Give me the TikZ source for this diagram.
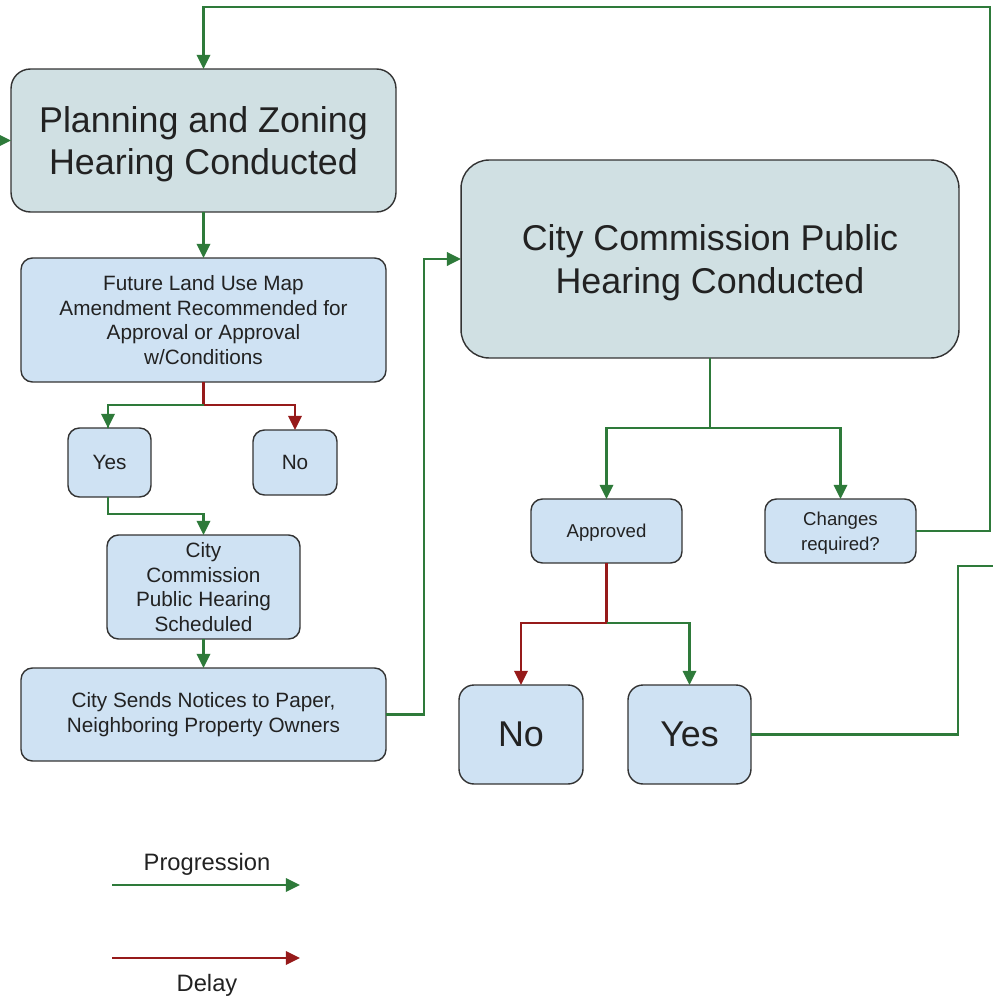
\documentclass[tikz,border=0pt]{standalone}
\usepackage{fontspec}
\setmainfont{Liberation Sans}
\usetikzlibrary{arrows.meta}
\definecolor{pgreen}{RGB}{46,122,58}
\definecolor{dred}{RGB}{150,26,26}
\definecolor{boxblue}{HTML}{CFE2F3}
\definecolor{boxcyan}{HTML}{D0E0E3}
\definecolor{edgegray}{HTML}{333333}
\definecolor{txt}{HTML}{222222}
\begin{document}
\begin{tikzpicture}[x=0.02cm,y=-0.02cm,
  box/.style={draw=edgegray, line width=0.8pt, fill=boxblue, rounded corners=6.5pt,
    inner sep=0pt, outer sep=0pt, align=center, text=txt,
    font=\fontsize{11.8}{13.9}\selectfont},
  smallbox/.style={box, text depth=0pt, font=\fontsize{10.6}{14.2}\selectfont},
  bigbox/.style={box, rounded corners=8.5pt, font=\fontsize{20.4}{24.4}\selectfont},
  hearbox/.style={box, fill=boxcyan, text depth=0pt, font=\fontsize{20.4}{24.4}\selectfont},
  tip/.style={-{Triangle[length=8pt,width=7.5pt]}},
  prog/.style={draw=pgreen, line width=1.6pt},
  del/.style={draw=dred, line width=1.6pt},
  lgd/.style={text=txt, inner sep=0pt, font=\fontsize{13.5}{16}\selectfont}
]
\useasboundingbox (0,0) rectangle (993,997);

% nodes
\node[hearbox, rounded corners=11pt, minimum width=7.7cm, minimum height=2.86cm] (pz) at (203.5,140.5)
  {Planning and Zoning\\Hearing Conducted};
\node[box, minimum width=7.3cm, minimum height=2.48cm] (flum) at (203.5,320)
  {Future Land Use Map\\Amendment Recommended for\\Approval or Approval\\w/Conditions};
\node[box, minimum width=1.66cm, minimum height=1.38cm] (yes1) at (109.5,462.5) {Yes};
\node[box, minimum width=1.68cm, minimum height=1.3cm] (no1) at (295,462.5) {No};
\node[box, minimum width=3.86cm, minimum height=2.08cm] (ccs) at (203.5,587)
  {City\\Commission\\Public Hearing\\Scheduled};
\node[box, minimum width=7.3cm, minimum height=1.86cm] (notices) at (203.5,714.5)
  {City Sends Notices to Paper,\\Neighboring Property Owners};
\node[hearbox, rounded corners=16pt, minimum width=9.96cm, minimum height=3.96cm] (ccph) at (710,259)
  {City Commission Public\\Hearing Conducted};
\node[smallbox, minimum width=3.02cm, minimum height=1.28cm] (appr) at (606.5,531) {Approved};
\node[smallbox, minimum width=3.02cm, minimum height=1.28cm] (chg) at (840.5,531) {Changes\\required?};
\node[bigbox, minimum width=2.48cm, minimum height=1.98cm] (no2) at (521,734.5) {No};
\node[bigbox, minimum width=2.46cm, minimum height=1.98cm] (yes2) at (689.5,734.5) {Yes};

% helper coordinates
\coordinate (lin) at (0,140.5);
\coordinate (tr) at (990,7);
\coordinate (yb) at (958,566);
\coordinate (exitR) at (993,566);

% connectors
\draw[prog, tip] (lin) -- (pz.west);
\draw[prog, tip] (pz.south) -- (flum.north);
\draw[del] (flum.south) -- ++(0,23) coordinate (fj);
\draw[prog, tip] (fj) -| (108,428) -- (yes1.north -| 108,0);
\draw[del, tip] (fj) -| (no1.north);
\draw[prog, tip] (yes1.south -| 108,0) -- ++(0,17) -| (ccs.north);
\draw[prog, tip] (ccs.south) -- (notices.north);
\draw[prog, tip] (notices.east) -- ++(38,0) |- (ccph.west);
\draw[prog] (ccph.south) -- ++(0,70) coordinate (cj);
\draw[prog, tip] (cj) -| (appr.north);
\draw[prog, tip] (cj) -| (chg.north);
\draw[del] (appr.south) -- ++(0,60) coordinate (aj);
\draw[del, tip] (aj) -| (no2.north);
\draw[prog, tip] (aj) -| (yes2.north);
\draw[prog, tip] (chg.east) -| (tr) -| (pz.north);
\draw[prog] (yes2.east) -| (yb) -- (exitR);

% legend
\coordinate (pa) at (112,885);
\coordinate (pb) at (300,885);
\coordinate (da) at (112,958);
\coordinate (db) at (300,958);
\draw[prog, tip] (pa) -- (pb);
\draw[del, tip] (da) -- (db);
\node[lgd] (plab) at (207,864) {Progression};
\node[lgd] (dlab) at (207,985) {Delay};
\end{tikzpicture}
\end{document}
